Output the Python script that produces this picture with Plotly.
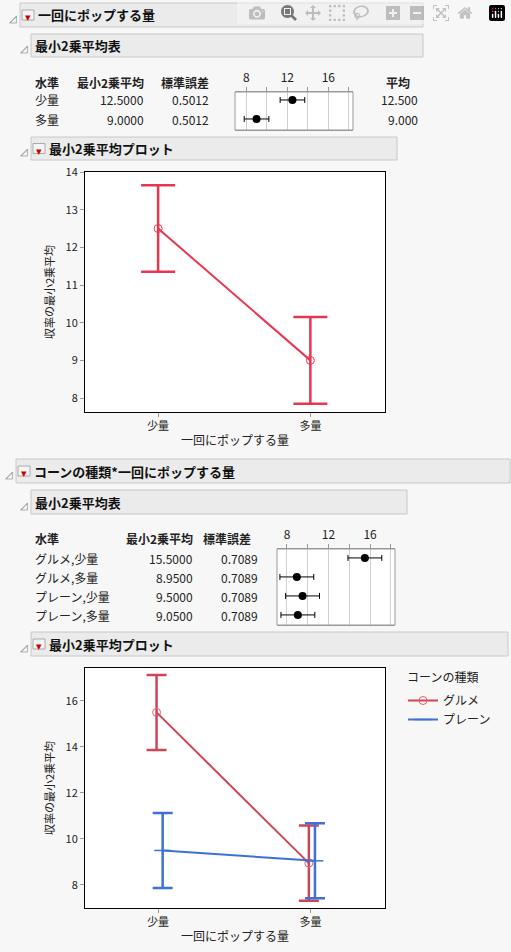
import plotly.graph_objects as go

W, H = 511, 952

# ---- data ----
amounts = ["少量", "多量"]
lsm1 = [12.5, 9.0]
se1 = [0.5012, 0.5012]
mean1 = [12.5, 9.0]
ci1 = [1.15, 1.15]

levels2 = ["グルメ,少量", "グルメ,多量", "プレーン,少量", "プレーン,多量"]
lsm2 = [15.5, 8.95, 9.5, 9.05]
se2 = [0.7089, 0.7089, 0.7089, 0.7089]
ci2 = [1.63, 1.63, 1.63, 1.63]

corn_types = ["グルメ", "プレーン"]
gourmet = [15.5, 8.95]
plain = [9.5, 9.05]

FONT = "Noto Sans CJK JP, Noto Sans, sans-serif"
RED1 = "#e8364e"
RED = "#d04555"
BLUE = "#3f6fd8"


def px(x):
    return x / W


def py(y):
    return 1 - y / H


fig = go.Figure()

# plot 1: one-factor LS means
fig.add_trace(go.Scatter(
    x=[0, 1], y=lsm1, mode="lines+markers", xaxis="x", yaxis="y",
    line=dict(color=RED1, width=2),
    marker=dict(symbol="circle-open", size=8, color=RED1),
    error_y=dict(type="data", array=ci1, color=RED1, thickness=2.5, width=17),
    showlegend=False))

# plot 2: interaction
fig.add_trace(go.Scatter(
    x=[-0.01, 0.99], y=gourmet, mode="lines+markers", xaxis="x2", yaxis="y2",
    name=corn_types[0], line=dict(color=RED, width=2),
    marker=dict(symbol="circle-open", size=8, color="#e06070"),
    error_y=dict(type="data", array=ci2[:2], color=RED, thickness=2.5, width=10)))
fig.add_trace(go.Scatter(
    x=[0.03, 1.03], y=plain, mode="lines+markers", xaxis="x2", yaxis="y2",
    name=corn_types[1], line=dict(color=BLUE, width=2),
    marker=dict(symbol="line-ew-open", size=12, color=BLUE, line=dict(width=1.5, color=BLUE)),
    error_y=dict(type="data", array=ci2[2:], color=BLUE, thickness=2.5, width=10)))

# mini plots in tables
fig.add_trace(go.Scatter(
    x=lsm1, y=list(range(len(lsm1))), mode="markers", xaxis="x3", yaxis="y3",
    marker=dict(color="black", size=8),
    error_x=dict(type="data", array=[1.2, 1.2], color="black", thickness=1, width=3),
    showlegend=False))
fig.add_trace(go.Scatter(
    x=lsm2, y=list(range(len(lsm2))), mode="markers", xaxis="x4", yaxis="y4",
    marker=dict(color="black", size=8),
    error_x=dict(type="data", array=ci2, color="black", thickness=1, width=3),
    showlegend=False))

ann = []
shapes = []


def text(x, y, s, size=12, bold=False, anchor="left", color="#222"):
    if bold:
        s = "<b>" + s + "</b>"
    ann.append(dict(x=px(x), y=py(y), xref="paper", yref="paper", text=s,
                    showarrow=False, xanchor=anchor, yanchor="middle",
                    font=dict(family=FONT, size=size, color=color)))


def header(x0, x1, y0, y1, title, button):
    shapes.append(dict(type="rect", xref="paper", yref="paper",
                       x0=px(x0), x1=px(x1), y0=py(y1), y1=py(y0),
                       fillcolor="#ebebeb", line=dict(color="#c8c8c8", width=1)))
    cy = (y0 + y1) / 2
    text(x0 - 13, cy + 2, "◿", size=10, color="#777")
    tx = x0 + 2
    if button:
        shapes.append(dict(type="rect", xref="paper", yref="paper",
                           x0=px(x0 + 2), x1=px(x0 + 14), y0=py(cy + 5), y1=py(cy - 5),
                           fillcolor="#f4f4f4", line=dict(color="#aaa", width=1)))
        text(x0 + 8, cy + 1, "▾", size=11, anchor="center", color="#c00")
        tx = x0 + 16
    text(tx, cy, title, size=13, bold=True, color="#111")


header(20, 423, 3, 27, "一回にポップする量", True)
header(31, 423, 34, 57, "最小2乗平均表", False)
header(31, 397, 137, 160, "最小2乗平均プロット", True)
header(16, 510, 459, 483, "コーンの種類*一回にポップする量", True)
header(31, 407, 490, 514, "最小2乗平均表", False)
header(31, 508, 632, 656, "最小2乗平均プロット", True)

# table 1
text(33, 82, "水準", bold=True)
text(146, 82, "最小2乗平均", bold=True, anchor="right")
text(211, 82, "標準誤差", bold=True, anchor="right")
text(412, 82, "平均", bold=True, anchor="right")
for i, lv in enumerate(amounts):
    yy = 100 + 19 * i
    text(33, yy, lv)
    text(146, yy, f"{lsm1[i]:.4f}", anchor="right")
    text(211, yy, f"{se1[i]:.4f}", anchor="right")
    text(420, yy, f"{mean1[i]:.3f}", anchor="right")

# table 2
text(33, 538, "水準", bold=True)
text(195, 538, "最小2乗平均", bold=True, anchor="right")
text(253, 538, "標準誤差", bold=True, anchor="right")
for i, lv in enumerate(levels2):
    yy = 558 + 19 * i
    text(33, yy, lv)
    text(195, yy, f"{lsm2[i]:.4f}", anchor="right")
    text(260, yy, f"{se2[i]:.4f}", anchor="right")

# legend
text(405, 676, "コーンの種類")

axis_common = dict(showline=True, linecolor="black", linewidth=1, mirror=True,
                   showgrid=False, zeroline=False, ticks="outside", tickcolor="#999",
                   ticklen=4, automargin=False,
                   tickfont=dict(family=FONT, size=11, color="#222"))

cat_x = dict(axis_common, tickvals=[0, 1], ticktext=amounts, range=[-0.48, 1.49],
             title=dict(text="一回にポップする量", font=dict(family=FONT, size=12, color="#222"), standoff=4))
ytitle = dict(text="収率の最小2乗平均", font=dict(family=FONT, size=11, color="#222"), standoff=8)

mini = dict(showline=True, linecolor="#999", linewidth=1, mirror=True, showgrid=True,
            gridcolor="#cfcfcf", zeroline=False, ticks="outside", tickcolor="#999",
            ticklen=4, side="top", tickvals=[8, 10, 12, 14, 16, 18], automargin=False,
            ticktext=["8", "", "12", "", "16", ""],
            tickfont=dict(family=FONT, size=12, color="#222"))

fig.update_layout(
    width=W, height=H, margin=dict(l=0, r=0, t=0, b=0, autoexpand=False),
    paper_bgcolor="#f7f7f7", plot_bgcolor="white",
    font=dict(family=FONT, size=12, color="#222"),
    xaxis=dict(cat_x, domain=[px(85), px(385)], anchor="y"),
    yaxis=dict(axis_common, domain=[py(412), py(172)], range=[7.63, 14.0],
               dtick=1, title=ytitle, anchor="x"),
    xaxis2=dict(cat_x, domain=[px(85), px(385)], anchor="y2"),
    yaxis2=dict(axis_common, domain=[py(908), py(668)], range=[7.0, 17.43],
                dtick=2, title=ytitle, anchor="x2"),
    xaxis3=dict(mini, domain=[px(235), px(353)], range=[6.9, 18.4], anchor="y3"),
    yaxis3=dict(domain=[py(130), py(92)], range=[1.58, -0.42], visible=False, anchor="x3"),
    xaxis4=dict(mini, domain=[px(277), px(395)], range=[7.04, 18.4], anchor="y4"),
    yaxis4=dict(domain=[py(625), py(549)], range=[3.53, -0.47], visible=False, anchor="x4"),
    showlegend=True,
    legend=dict(x=px(403), y=py(686), xanchor="left", yanchor="top",
                bgcolor="rgba(0,0,0,0)", font=dict(family=FONT, size=12, color="#222"),
                tracegroupgap=0, itemwidth=30),
    annotations=ann, shapes=shapes,
)

# borders for the mini plots (their y axes are hidden)
for xa, ya in [("x3", "y3"), ("x4", "y4")]:
    fig.add_shape(type="rect", xref=f"{xa} domain", yref=f"{ya} domain",
                  x0=0, x1=1, y0=0, y1=1, line=dict(color="#999", width=1))

fig.write_html("out.html", post_script="document.body.style.margin='0';document.body.style.overflow='hidden';")
